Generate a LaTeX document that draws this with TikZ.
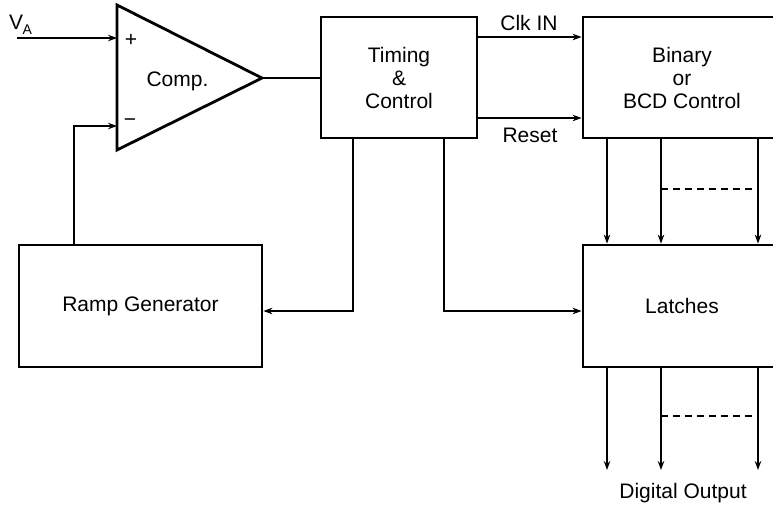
\documentclass[tikz,border=0pt]{standalone}
\usepackage{fontspec}
\setmainfont{Liberation Sans}
\usetikzlibrary{arrows.meta,calc}
\begin{document}
\begin{tikzpicture}[x=1pt,y=-1pt,
  blk/.style={draw, line width=2.8pt, inner sep=0pt, align=center,
              font=\fontsize{21}{23}\selectfont},
  wire/.style={line width=1.4pt},
  arr/.style={wire, -{Stealth[length=9pt,width=6.5pt]}},
  lbl/.style={font=\fontsize{21}{23}\selectfont, align=center, inner sep=0pt},
  sgn/.style={font=\fontsize{21}{21}\selectfont, inner sep=0pt},
  dsh/.style={wire, dash pattern=on 7pt off 5pt}]
\useasboundingbox (0,0) rectangle (773,507);
\clip (0,0) rectangle (773,507);

% comparator
\coordinate (tA) at (117,5);
\coordinate (tB) at (117,150);
\coordinate (tC) at (262,78);
\draw[line width=2.8pt, line join=miter] (tA) -- (tB) -- (tC) -- cycle;
\node[lbl, anchor=base] (comp) at (177.5,86) {Comp.};
\node[sgn] (plus) at (131,40) {+};
\node[sgn] (minus) at (130,123) {−};
\coordinate (inp) at (117,38);
\coordinate (inm) at (117,126);

% blocks
\node[blk, minimum width=243pt, minimum height=122pt] (ramp) at (140.5,306) {Ramp Generator};
\node[blk, minimum width=156pt, minimum height=121pt] (tim) at (399,77.5) {Timing\\\&\\Control};
\node[blk, minimum width=198pt, minimum height=121pt] (bin) at (682,77.5) {Binary\\or\\BCD Control};
\node[blk, minimum width=198pt, minimum height=122pt] (lat) at (682,306) {Latches};

% input V_A
\node[lbl, anchor=base west] (va) at (9,29) {V\kern-0.5pt{\fontsize{14}{14}\selectfont\raisebox{-5pt}{A}}};
\coordinate (vin) at (17,38);
\draw[arr] (vin) -- (inp);

% comparator output to timing
\draw[wire] (tC) -- (tim.west |- tC);

% ramp feedback to minus input
\coordinate (mx) at (74,0);
\draw[arr] (ramp.north -| mx) |- (inm);

% timing -> binary
\coordinate (ck) at (0,37);
\coordinate (rs) at (0,118);
\draw[arr] (tim.east |- ck) -- (bin.west |- ck);
\draw[arr] (tim.east |- rs) -- (bin.west |- rs);
\node[lbl] (clk) at (529,22.5) {Clk IN};
\node[lbl, anchor=base] (rst) at (530,142) {Reset};

% timing -> ramp, timing -> latches
\coordinate (t1) at (353,311);
\coordinate (t2) at (444,311);
\draw[arr] (tim.south -| t1) -- (t1) -- (ramp.east |- t1);
\draw[arr] (tim.south -| t2) -- (t2) -- (lat.west |- t2);

% binary -> latches
\coordinate (c1) at (607,0);
\coordinate (c2) at (661,0);
\coordinate (c3) at (758,0);
\foreach \c in {c1,c2,c3} {
  \draw[arr] (bin.south -| \c) -- (lat.north -| \c);
}
\coordinate (d1) at (661,189);
\coordinate (d2) at (758,189);
\draw[dsh] (d1) -- (d2);

% latches -> outputs
\coordinate (o1) at (607,470);
\coordinate (o2) at (661,470);
\coordinate (o3) at (758,470);
\draw[arr] (lat.south -| o1) -- (o1);
\draw[arr] (lat.south -| o2) -- (o2);
\draw[arr] (lat.south -| o3) -- (o3);
\coordinate (e1) at (661,416);
\coordinate (e2) at (758,416);
\draw[dsh] (e1) -- (e2);
\node[lbl, anchor=base] (dout) at (683,498) {Digital Output};
\end{tikzpicture}
\end{document}
